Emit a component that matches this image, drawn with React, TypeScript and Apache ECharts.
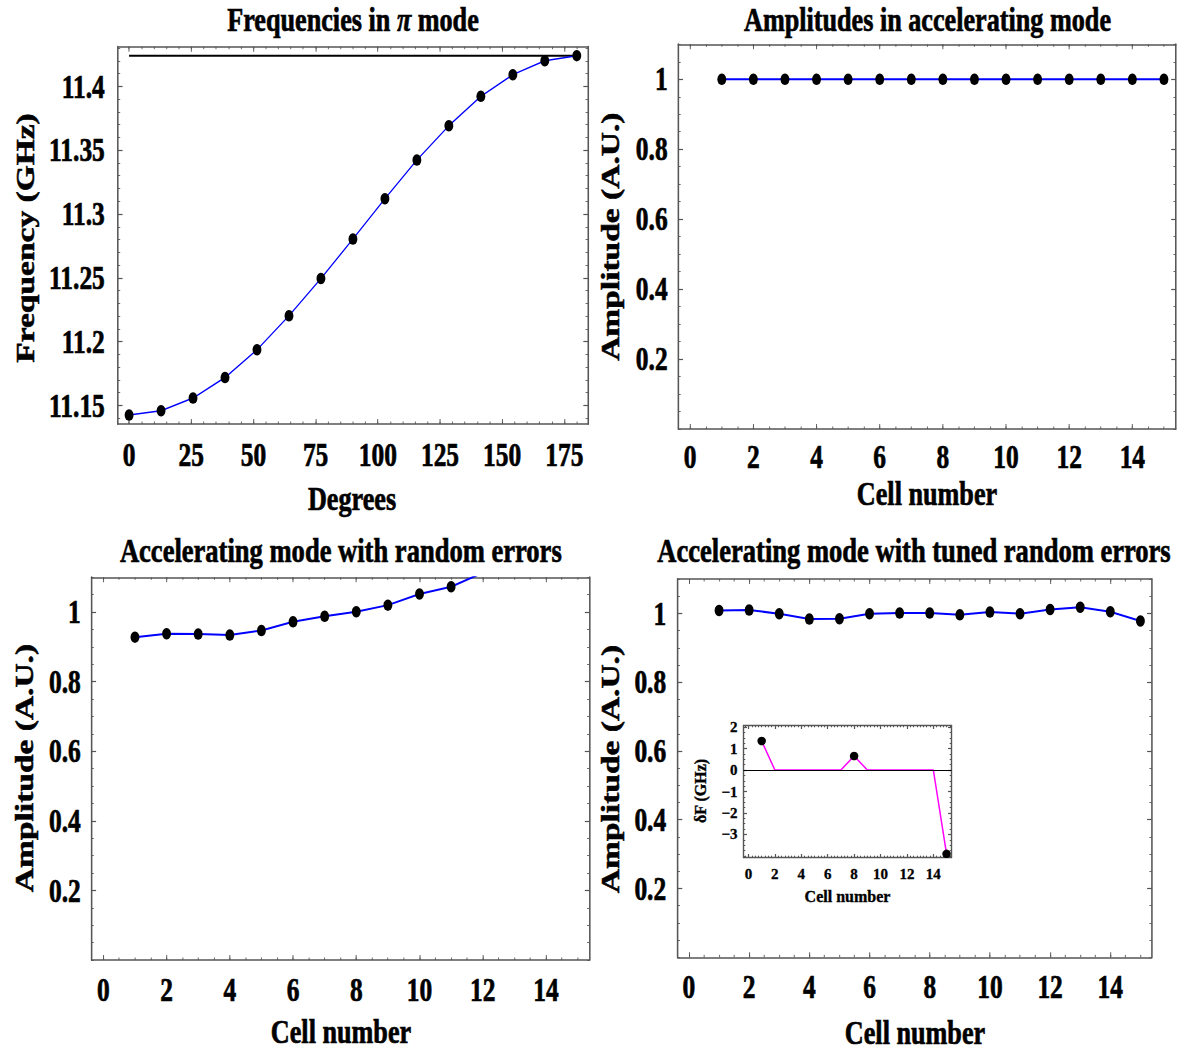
import React, { useEffect, useRef } from "react";
import * as echarts from "echarts";

// ---------- layout constants ----------
const SQUEEZE = 0.77; // the reference is horizontally condensed
const PAGE_W = 1180;
const PAGE_H = 1055;
const MAIN_W = Math.round(PAGE_W / SQUEEZE);

const SERIF = "'Liberation Serif', 'Times New Roman', Times, serif";
const FRAME = "#555555";
const BLUE = "#0000ff";
const MAGENTA = "#ff00ff";

// ---------- data ----------
// Panel 1: Frequencies in π mode
const phaseDegrees = [0, 12.86, 25.71, 38.57, 51.43, 64.29, 77.14, 90, 102.86, 115.71, 128.57, 141.43, 154.29, 167.14, 180];
const piModeFrequencies = [11.1425, 11.1459, 11.1558, 11.1719, 11.1937, 11.2203, 11.2495, 11.2804, 11.312, 11.3423, 11.3692, 11.3922, 11.4092, 11.4201, 11.4241];
const piModeReference = 11.4241;
const referenceSpan = [0, 180];
const degreeTicks = [0, 25, 50, 75, 100, 125, 150, 175];
const frequencyTicks = [11.15, 11.2, 11.25, 11.3, 11.35, 11.4];

// Panels 2-4: cell amplitudes
const cellNumbers = [1, 2, 3, 4, 5, 6, 7, 8, 9, 10, 11, 12, 13, 14, 15];
const amplitudesIdeal = [1, 1, 1, 1, 1, 1, 1, 1, 1, 1, 1, 1, 1, 1, 1];
const amplitudesRandom = [0.928, 0.938, 0.937, 0.934, 0.947, 0.972, 0.988, 1.001, 1.02, 1.052, 1.073, 1.113];
const amplitudesTuned = [1.0087, 1.0097, 0.999, 0.9836, 0.9845, 0.999, 1.001, 1.001, 0.996, 1.004, 0.999, 1.0116, 1.018, 1.005, 0.978];
const tuningShiftGHz = [1.35, 0, 0, 0, 0, 0, 0, 0.65, 0, 0, 0, 0, 0, 0, -3.9];
const cellTicks = [0, 2, 4, 6, 8, 10, 12, 14];
const amplitudeTicks = [0.2, 0.4, 0.6, 0.8, 1];
const shiftTicks = [-3, -2, -1, 0, 1, 2];

// ---------- helpers ----------
function stepValues(min: number, max: number, step: number) {
  const out: number[] = [];
  const start = Math.ceil(min / step - 1e-9);
  const end = Math.floor(max / step + 1e-9);
  for (let i = start; i <= end; i++) out.push(Math.round(i * step * 1e6) / 1e6);
  return out;
}

type AxisSpec = {
  grid: number;
  min: number;
  max: number;
  majors: number[];
  minorStep: number;
  label: any;
  majorLen: number;
  minorLen: number;
  lineWidth: number;
};

function frameAxes(dim: "x" | "y", s: AxisSpec) {
  const minors = stepValues(s.min, s.max, s.minorStep);
  const sides = dim === "x" ? ["bottom", "top"] : ["left", "right"];
  const axes: any[] = [];
  sides.forEach((pos, si) => {
    axes.push({
      type: "value",
      gridIndex: s.grid,
      min: s.min,
      max: s.max,
      position: pos,
      axisLine: { show: true, onZero: false, lineStyle: { color: FRAME, width: s.lineWidth } },
      axisTick: { show: true, inside: true, length: s.majorLen, customValues: s.majors, lineStyle: { color: FRAME, width: 1.2 } },
      axisLabel: si === 0 ? { ...s.label, customValues: s.majors } : { show: false },
      splitLine: { show: false },
    });
    axes.push({
      type: "value",
      gridIndex: s.grid,
      min: s.min,
      max: s.max,
      position: pos,
      axisLine: { show: false, onZero: false },
      axisTick: { show: true, inside: true, length: s.minorLen, customValues: minors, lineStyle: { color: FRAME, width: 1 } },
      axisLabel: { show: false },
      splitLine: { show: false },
    });
  });
  return axes;
}

function text(t: string, x: number, y: number, size: number, vertical = false, weight = 0.7, rich?: any) {
  const style: any = {
    text: t,
    fill: "#000",
    stroke: "#000",
    lineWidth: weight,
    fontSize: size,
    fontWeight: "bold",
    fontFamily: SERIF,
    align: "center",
    textAlign: "center",
    verticalAlign: "middle",
    textVerticalAlign: "middle",
  };
  if (rich) style.rich = rich;
  return {
    type: "text",
    x,
    y,
    rotation: vertical ? Math.PI / 2 : 0,
    silent: true,
    style,
  };
}

const tickLabel = (margin: number) => ({
  show: true,
  color: "#000",
  fontSize: 33,
  fontWeight: "bold",
  fontFamily: SERIF,
  textBorderColor: "#000",
  textBorderWidth: 0.7,
  margin,
});

function buildMainOption() {
  const grids = [
    { left: 153.1, top: 46.7, width: 610.5, height: 377.3 },
    { left: 881.0, top: 44.3, width: 646.0, height: 384.7 },
    { left: 118.8, top: 577.3, width: 646.7, height: 382.7 },
    { left: 880.1, top: 579.0, width: 615.6, height: 378.3 },
  ].map((g) => ({ ...g, containLabel: false, outerBoundsMode: "none", show: false }));

  const xAxes: any[] = [];
  const yAxes: any[] = [];
  const mainX: number[] = [];
  const mainY: number[] = [];

  const xSpecs: AxisSpec[] = [
    { grid: 0, min: -4.5, max: 184.5, majors: degreeTicks, minorStep: 5, label: tickLabel(14), majorLen: 5, minorLen: 2.5, lineWidth: 1.6 },
    { grid: 1, min: -0.375, max: 15.375, majors: cellTicks, minorStep: 0.5, label: tickLabel(11), majorLen: 5, minorLen: 2.5, lineWidth: 1.6 },
    { grid: 2, min: -0.375, max: 15.375, majors: cellTicks, minorStep: 0.5, label: tickLabel(13), majorLen: 5, minorLen: 2.5, lineWidth: 1.6 },
    { grid: 3, min: -0.375, max: 15.375, majors: cellTicks, minorStep: 0.5, label: tickLabel(13), majorLen: 5, minorLen: 2.5, lineWidth: 1.6 },
  ];
  const ySpecs: AxisSpec[] = [
    { grid: 0, min: 11.1355, max: 11.4311, majors: frequencyTicks, minorStep: 0.01, label: tickLabel(17), majorLen: 6, minorLen: 3, lineWidth: 2 },
    { grid: 1, min: 0, max: 1.1, majors: amplitudeTicks, minorStep: 0.05, label: tickLabel(14), majorLen: 6, minorLen: 3, lineWidth: 2 },
    { grid: 2, min: 0, max: 1.1, majors: amplitudeTicks, minorStep: 0.05, label: tickLabel(14), majorLen: 6, minorLen: 3, lineWidth: 2 },
    { grid: 3, min: 0, max: 1.1, majors: amplitudeTicks, minorStep: 0.05, label: tickLabel(15), majorLen: 6, minorLen: 3, lineWidth: 2 },
  ];
  xSpecs.forEach((s) => {
    mainX.push(xAxes.length);
    xAxes.push(...frameAxes("x", s));
  });
  ySpecs.forEach((s) => {
    mainY.push(yAxes.length);
    yAxes.push(...frameAxes("y", s));
  });

  const dotSeries = (name: string, panel: number, xs: number[], ys: number[], width: number) => ({
    name,
    type: "line",
    xAxisIndex: mainX[panel],
    yAxisIndex: mainY[panel],
    data: ys.map((v, i) => [xs[i], v]),
    symbol: "circle",
    symbolSize: 11.5,
    showSymbol: true,
    clip: true,
    lineStyle: { color: BLUE, width },
    itemStyle: { color: "#000", borderWidth: 0 },
    z: 3,
  });

  const series: any[] = [
    {
      name: "π-mode frequency",
      type: "line",
      xAxisIndex: mainX[0],
      yAxisIndex: mainY[0],
      data: referenceSpan.map((x) => [x, piModeReference]),
      symbol: "none",
      lineStyle: { color: "#000", width: 2 },
      z: 2,
    },
    dotSeries("Frequencies", 0, phaseDegrees, piModeFrequencies, 1.5),
    dotSeries("Ideal amplitudes", 1, cellNumbers, amplitudesIdeal, 2.2),
    dotSeries("Random errors", 2, cellNumbers, amplitudesRandom, 2),
    dotSeries("Tuned random errors", 3, cellNumbers, amplitudesTuned, 2),
  ];

  const S = SQUEEZE;
  const piRich = {
    r: { fontSize: 34, fontWeight: "bold", fontFamily: SERIF, fill: "#000", stroke: "#000", lineWidth: 0.7 },
    i: { fontSize: 34, fontWeight: "bold", fontStyle: "italic", fontFamily: SERIF, fill: "#000", stroke: "#000", lineWidth: 0.7 },
  };
  const graphic = [
    text("{r|Frequencies in }{i|π}{r| mode}", 353 / S, 19.5, 34, false, 0.7, piRich),
    text("Amplitudes in accelerating mode", 927.5 / S, 19.5, 34),
    text("Accelerating mode with random errors", 340.8 / S, 551, 34.5),
    text("Accelerating mode with tuned random errors", 914 / S, 551, 34.5),
    text("Degrees", 352 / S, 499, 34),
    text("Cell number", 927 / S, 494, 34),
    text("Cell number", 341 / S, 1032, 34),
    text("Cell number", 915 / S, 1033, 34),
    text("Frequency (GHz)", 24.5 / S, 238, 33.5, true),
    text("Amplitude (A.U.)", 610 / S, 236.7, 33.5, true),
    text("Amplitude (A.U.)", 24 / S, 768, 33.5, true),
    text("Amplitude (A.U.)", 610 / S, 769, 33.5, true),
  ];

  return {
    animation: false,
    backgroundColor: "transparent",
    grid: grids,
    xAxis: xAxes,
    yAxis: yAxes,
    series,
    graphic,
  };
}

function buildInsetOption() {
  const label = (margin: number) => ({
    show: true,
    color: "#000",
    fontSize: 15,
    fontWeight: "bold",
    fontFamily: SERIF,
    textBorderColor: "#000",
    textBorderWidth: 0.3,
    margin,
    formatter: (v: number) => String(v).replace("-", "\u2212"),
  });
  const xAxes = frameAxes("x", { grid: 0, min: -0.375, max: 15.375, majors: cellTicks, minorStep: 0.25, label: label(9), majorLen: 3.5, minorLen: 1.8, lineWidth: 1.4 });
  const yAxes = frameAxes("y", { grid: 0, min: -4.07, max: 2.07, majors: shiftTicks, minorStep: 0.25, label: label(6), majorLen: 3.5, minorLen: 1.8, lineWidth: 1.4 });
  const nonZero = tuningShiftGHz
    .map((v, i) => [cellNumbers[i], v])
    .filter((p) => p[1] !== 0);
  return {
    animation: false,
    backgroundColor: "transparent",
    grid: [{ left: 743.5, top: 725.5, width: 208, height: 132, containLabel: false, outerBoundsMode: "none", show: true, backgroundColor: "#fff", borderWidth: 0 }],
    xAxis: xAxes,
    yAxis: yAxes,
    series: [
      {
        name: "zero",
        type: "line",
        data: [],
        markLine: {
          silent: true,
          symbol: ["none", "none"],
          label: { show: false },
          lineStyle: { color: "#000", width: 1.2, type: "solid" },
          data: [{ yAxis: 0 }],
        },
        z: 1,
      },
      {
        name: "δF",
        type: "line",
        data: tuningShiftGHz.map((v, i) => [cellNumbers[i], v]),
        symbol: "none",
        lineStyle: { color: MAGENTA, width: 1.5 },
        z: 3,
      },
      {
        name: "δF points",
        type: "scatter",
        data: nonZero,
        symbol: "circle",
        symbolSize: 8.5,
        itemStyle: { color: "#000", opacity: 1 },
        z: 4,
      },
    ],
    graphic: [
      text("Cell number", 847.5, 896.5, 16, false, 0.35),
      text("δF (GHz)", 700.5, 791, 16, true, 0.35),
    ],
  };
}

export default function App() {
  const mainRef = useRef<HTMLDivElement>(null);
  const insetRef = useRef<HTMLDivElement>(null);

  useEffect(() => {
    if (!mainRef.current || !insetRef.current) return;
    const main = echarts.init(mainRef.current, undefined, { renderer: "svg" });
    main.setOption(buildMainOption() as any);
    const inset = echarts.init(insetRef.current, undefined, { renderer: "svg" });
    inset.setOption(buildInsetOption() as any);
    return () => {
      main.dispose();
      inset.dispose();
    };
  }, []);

  return (
    <div style={{ position: "absolute", left: 0, top: 0, width: PAGE_W, height: PAGE_H, overflow: "hidden", background: "#fff" }}>
      <div
        ref={mainRef}
        style={{ position: "absolute", left: 0, top: 0, width: MAIN_W, height: PAGE_H, transform: `scaleX(${SQUEEZE})`, transformOrigin: "0 0" }}
      />
      <div ref={insetRef} style={{ position: "absolute", left: 0, top: 0, width: PAGE_W, height: PAGE_H }} />
    </div>
  );
}
